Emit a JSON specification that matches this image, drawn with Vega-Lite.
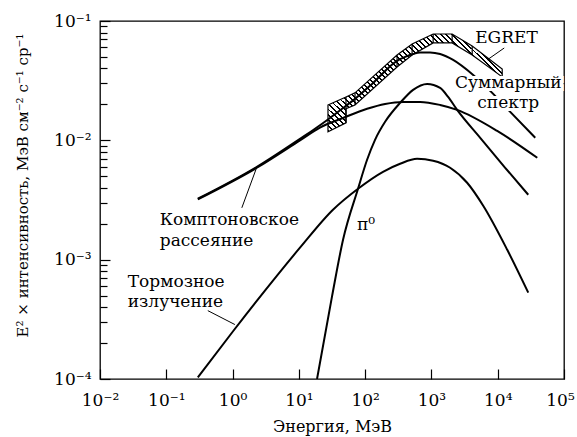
{
  "$schema": "https://vega.github.io/schema/vega-lite/v6.json",
  "width": 464,
  "height": 358,
  "autosize": {"type": "none"},
  "padding": {"left": 100, "top": 21, "right": 13, "bottom": 58},
  "background": "white",
  "config": {
    "font": "DejaVu Serif",
    "view": {"stroke": "black", "strokeWidth": 1.3},
    "text": {"font": "DejaVu Serif"},
    "axis": {"grid": false, "domain": false, "tickColor": "black", "tickWidth": 1.2, "labelColor": "black", "titleColor": "black", "labelFont": "DejaVu Serif", "titleFont": "DejaVu Serif", "labelFontSize": 17, "titleFontSize": 16, "titleFontWeight": "normal", "labelFlush": false, "labelOverlap": false}
  },
  "datasets": {
    "curves": [
      {"s": "total", "E": 0.299, "I": 0.00324},
      {"s": "total", "E": 2.33, "I": 0.006},
      {"s": "total", "E": 10.4, "I": 0.0103},
      {"s": "total", "E": 17.5, "I": 0.0125},
      {"s": "total", "E": 29.5, "I": 0.0154},
      {"s": "total", "E": 51.4, "I": 0.0195},
      {"s": "total", "E": 70.3, "I": 0.02225},
      {"s": "total", "E": 132, "I": 0.0303},
      {"s": "total", "E": 303, "I": 0.0463},
      {"s": "total", "E": 401, "I": 0.05},
      {"s": "total", "E": 529, "I": 0.0529},
      {"s": "total", "E": 675, "I": 0.0545},
      {"s": "total", "E": 955, "I": 0.0545},
      {"s": "total", "E": 1353, "I": 0.0529},
      {"s": "total", "E": 2125, "I": 0.0472},
      {"s": "total", "E": 4266, "I": 0.0353},
      {"s": "total", "E": 8260, "I": 0.025},
      {"s": "total", "E": 15450, "I": 0.0173},
      {"s": "total", "E": 36830, "I": 0.0105},
      {"s": "ic", "E": 0.299, "I": 0.0032},
      {"s": "ic", "E": 2.33, "I": 0.0059},
      {"s": "ic", "E": 10.4, "I": 0.0100},
      {"s": "ic", "E": 20.8, "I": 0.0128},
      {"s": "ic", "E": 46.4, "I": 0.0154},
      {"s": "ic", "E": 107, "I": 0.0184},
      {"s": "ic", "E": 200, "I": 0.0202},
      {"s": "ic", "E": 374, "I": 0.021},
      {"s": "ic", "E": 675, "I": 0.021},
      {"s": "ic", "E": 1353, "I": 0.0198},
      {"s": "ic", "E": 2443, "I": 0.018},
      {"s": "ic", "E": 9817, "I": 0.012},
      {"s": "ic", "E": 39510, "I": 0.00714},
      {"s": "pi0", "E": 18.8, "I": 0.0001},
      {"s": "pi0", "E": 31.6, "I": 0.00049},
      {"s": "pi0", "E": 46.4, "I": 0.00147},
      {"s": "pi0", "E": 78.1, "I": 0.00393},
      {"s": "pi0", "E": 107, "I": 0.00687},
      {"s": "pi0", "E": 141, "I": 0.0101},
      {"s": "pi0", "E": 200, "I": 0.0143},
      {"s": "pi0", "E": 337, "I": 0.0206},
      {"s": "pi0", "E": 529, "I": 0.0265},
      {"s": "pi0", "E": 861, "I": 0.0297},
      {"s": "pi0", "E": 1353, "I": 0.0275},
      {"s": "pi0", "E": 1786, "I": 0.0231},
      {"s": "pi0", "E": 2443, "I": 0.018},
      {"s": "pi0", "E": 5445, "I": 0.0105},
      {"s": "pi0", "E": 12970, "I": 0.00589},
      {"s": "pi0", "E": 28890, "I": 0.0035},
      {"s": "brems", "E": 0.299, "I": 0.000103},
      {"s": "brems", "E": 1.01, "I": 0.00025},
      {"s": "brems", "E": 3.08, "I": 0.00055},
      {"s": "brems", "E": 10.4, "I": 0.00126},
      {"s": "brems", "E": 32.7, "I": 0.00262},
      {"s": "brems", "E": 78.1, "I": 0.00393},
      {"s": "brems", "E": 186, "I": 0.00545},
      {"s": "brems", "E": 337, "I": 0.00636},
      {"s": "brems", "E": 608, "I": 0.007},
      {"s": "brems", "E": 1062, "I": 0.00674},
      {"s": "brems", "E": 1915, "I": 0.00589},
      {"s": "brems", "E": 3459, "I": 0.00441},
      {"s": "brems", "E": 6043, "I": 0.00283},
      {"s": "brems", "E": 13920, "I": 0.00121},
      {"s": "brems", "E": 28890, "I": 0.000529}
    ],
    "egret": [
      {"E": 27.5, "I": 0.0198, "I2": 0.0118},
      {"E": 51.4, "I": 0.0231, "I2": 0.014},
      {"E": 51.4, "I": 0.0231, "I2": 0.0184},
      {"E": 70.3, "I": 0.025, "I2": 0.0198},
      {"E": 303, "I": 0.0519, "I2": 0.0412},
      {"E": 511, "I": 0.0642, "I2": 0.0519},
      {"E": 1062, "I": 0.0778, "I2": 0.0655},
      {"E": 2054, "I": 0.0778, "I2": 0.0655},
      {"E": 4121, "I": 0.0618, "I2": 0.0519},
      {"E": 11690, "I": 0.0396, "I2": 0.034}
    ],
    "edges": [
      {"E": 51.4, "I": 0.0231, "I2": 0.014},
      {"E": 70.3, "I": 0.025, "I2": 0.0198},
      {"E": 303, "I": 0.0519, "I2": 0.0412},
      {"E": 511, "I": 0.0642, "I2": 0.0519},
      {"E": 1062, "I": 0.0778, "I2": 0.0655},
      {"E": 2054, "I": 0.0778, "I2": 0.0655},
      {"E": 4121, "I": 0.0618, "I2": 0.0519}
    ],
    "leaders": [
      {"E": 1.38, "I": 0.00272, "E2": 2.33, "I2": 0.006},
      {"E": 0.423, "I": 0.000374, "E2": 1.083, "I2": 0.000286},
      {"E": 6935, "I": 0.0472, "E2": 12540, "I2": 0.0594}
    ],
    "leftLabels": [
      {"t": "Комптоновское", "E": 0.0798, "I": 0.00196},
      {"t": "рассеяние", "E": 0.0798, "I": 0.00131},
      {"t": "Тормозное", "E": 0.0262, "I": 0.000594},
      {"t": "излучение", "E": 0.0262, "I": 0.000404},
      {"t": "EGRET", "E": 4571, "I": 0.0655},
      {"t": "π⁰", "E": 75.5, "I": 0.00178}
    ],
    "centerLabels": [
      {"t": "Суммарный", "E": 14420, "I": 0.0275},
      {"t": "спектр", "E": 14420, "I": 0.0187}
    ]
  },
  "encoding": {
    "x": {
      "field": "E", "type": "quantitative",
      "scale": {"type": "log", "domain": [0.01, 100000], "nice": false},
      "axis": {
        "values": [0.01, 0.1, 1, 10, 100, 1000, 10000, 100000],
        "labelExpr": "'10' + (round(log(datum.value)/LN10) < 0 ? '⁻' : '') + ['⁰','¹','²','³','⁴','⁵'][abs(round(log(datum.value)/LN10))]",
        "labelOffset": {"condition": {"test": "datum.value > 50000", "value": -4}, "value": 0},
        "tickSize": -10,
        "labelPadding": 23,
        "labelBaseline": "top",
        "title": "Энергия, МэВ",
        "titleY": 52,
        "titleBaseline": "alphabetic"
      }
    },
    "y": {
      "field": "I", "type": "quantitative",
      "scale": {"type": "log", "domain": [0.0001, 0.1], "nice": false},
      "axis": {
        "values": [0.0001, 0.0002, 0.0003, 0.0004, 0.0005, 0.0006, 0.0007, 0.0008, 0.0009, 0.001, 0.002, 0.003, 0.004, 0.005, 0.006, 0.007, 0.008, 0.009, 0.01, 0.02, 0.03, 0.04, 0.05, 0.06, 0.07, 0.08, 0.09, 0.1],
        "labelExpr": "abs(log(datum.value)/LN10 - round(log(datum.value)/LN10)) > 0.01 ? '' : '10' + (round(log(datum.value)/LN10) < 0 ? '⁻' : '') + ['⁰','¹','²','³','⁴','⁵'][abs(round(log(datum.value)/LN10))]",
        "tickSize": {"condition": {"test": "abs(log(datum.value)/LN10 - round(log(datum.value)/LN10)) < 0.01", "value": -10}, "value": -7},
        "labelPadding": 19,
        "labelBaseline": "middle",
        "title": "E² × интенсивность, МэВ см⁻² с⁻¹ ср⁻¹",
        "titleFontSize": 15,
        "titleAngle": 270,
        "titleX": -73,
        "titleY": 164,
        "titleAlign": "center",
        "titleBaseline": "alphabetic"
      }
    }
  },
  "layer": [
    {
      "data": {"name": "egret"},
      "mark": {
        "type": "area",
        "stroke": "black",
        "strokeWidth": 1.2,
        "fill": {
          "gradient": "linear", "x1": 0, "y1": 1, "x2": 1.2, "y2": 0.317,
          "stops": [
            {"offset": 0, "color": "#000"}, {"offset": 0.007, "color": "#000"}, {"offset": 0.007, "color": "#fff"}, {"offset": 0.02, "color": "#fff"},
            {"offset": 0.02, "color": "#000"}, {"offset": 0.027, "color": "#000"}, {"offset": 0.027, "color": "#fff"}, {"offset": 0.04, "color": "#fff"},
            {"offset": 0.04, "color": "#000"}, {"offset": 0.047, "color": "#000"}, {"offset": 0.047, "color": "#fff"}, {"offset": 0.06, "color": "#fff"},
            {"offset": 0.06, "color": "#000"}, {"offset": 0.067, "color": "#000"}, {"offset": 0.067, "color": "#fff"}, {"offset": 0.08, "color": "#fff"},
            {"offset": 0.08, "color": "#000"}, {"offset": 0.087, "color": "#000"}, {"offset": 0.087, "color": "#fff"}, {"offset": 0.1, "color": "#fff"},
            {"offset": 0.1, "color": "#000"}, {"offset": 0.107, "color": "#000"}, {"offset": 0.107, "color": "#fff"}, {"offset": 0.12, "color": "#fff"},
            {"offset": 0.12, "color": "#000"}, {"offset": 0.127, "color": "#000"}, {"offset": 0.127, "color": "#fff"}, {"offset": 0.14, "color": "#fff"},
            {"offset": 0.14, "color": "#000"}, {"offset": 0.147, "color": "#000"}, {"offset": 0.147, "color": "#fff"}, {"offset": 0.16, "color": "#fff"},
            {"offset": 0.16, "color": "#000"}, {"offset": 0.167, "color": "#000"}, {"offset": 0.167, "color": "#fff"}, {"offset": 0.18, "color": "#fff"},
            {"offset": 0.18, "color": "#000"}, {"offset": 0.187, "color": "#000"}, {"offset": 0.187, "color": "#fff"}, {"offset": 0.2, "color": "#fff"},
            {"offset": 0.2, "color": "#000"}, {"offset": 0.207, "color": "#000"}, {"offset": 0.207, "color": "#fff"}, {"offset": 0.22, "color": "#fff"},
            {"offset": 0.22, "color": "#000"}, {"offset": 0.227, "color": "#000"}, {"offset": 0.227, "color": "#fff"}, {"offset": 0.24, "color": "#fff"},
            {"offset": 0.24, "color": "#000"}, {"offset": 0.247, "color": "#000"}, {"offset": 0.247, "color": "#fff"}, {"offset": 0.26, "color": "#fff"},
            {"offset": 0.26, "color": "#000"}, {"offset": 0.267, "color": "#000"}, {"offset": 0.267, "color": "#fff"}, {"offset": 0.28, "color": "#fff"},
            {"offset": 0.28, "color": "#000"}, {"offset": 0.287, "color": "#000"}, {"offset": 0.287, "color": "#fff"}, {"offset": 0.3, "color": "#fff"},
            {"offset": 0.3, "color": "#000"}, {"offset": 0.307, "color": "#000"}, {"offset": 0.307, "color": "#fff"}, {"offset": 0.32, "color": "#fff"},
            {"offset": 0.32, "color": "#000"}, {"offset": 0.327, "color": "#000"}, {"offset": 0.327, "color": "#fff"}, {"offset": 0.34, "color": "#fff"},
            {"offset": 0.34, "color": "#000"}, {"offset": 0.347, "color": "#000"}, {"offset": 0.347, "color": "#fff"}, {"offset": 0.36, "color": "#fff"},
            {"offset": 0.36, "color": "#000"}, {"offset": 0.367, "color": "#000"}, {"offset": 0.367, "color": "#fff"}, {"offset": 0.38, "color": "#fff"},
            {"offset": 0.38, "color": "#000"}, {"offset": 0.387, "color": "#000"}, {"offset": 0.387, "color": "#fff"}, {"offset": 0.4, "color": "#fff"},
            {"offset": 0.4, "color": "#000"}, {"offset": 0.407, "color": "#000"}, {"offset": 0.407, "color": "#fff"}, {"offset": 0.42, "color": "#fff"},
            {"offset": 0.42, "color": "#000"}, {"offset": 0.427, "color": "#000"}, {"offset": 0.427, "color": "#fff"}, {"offset": 0.44, "color": "#fff"},
            {"offset": 0.44, "color": "#000"}, {"offset": 0.447, "color": "#000"}, {"offset": 0.447, "color": "#fff"}, {"offset": 0.46, "color": "#fff"},
            {"offset": 0.46, "color": "#000"}, {"offset": 0.467, "color": "#000"}, {"offset": 0.467, "color": "#fff"}, {"offset": 0.48, "color": "#fff"},
            {"offset": 0.48, "color": "#000"}, {"offset": 0.487, "color": "#000"}, {"offset": 0.487, "color": "#fff"}, {"offset": 0.5, "color": "#fff"},
            {"offset": 0.5, "color": "#000"}, {"offset": 0.507, "color": "#000"}, {"offset": 0.507, "color": "#fff"}, {"offset": 0.52, "color": "#fff"},
            {"offset": 0.52, "color": "#000"}, {"offset": 0.527, "color": "#000"}, {"offset": 0.527, "color": "#fff"}, {"offset": 0.54, "color": "#fff"},
            {"offset": 0.54, "color": "#000"}, {"offset": 0.547, "color": "#000"}, {"offset": 0.547, "color": "#fff"}, {"offset": 0.56, "color": "#fff"},
            {"offset": 0.56, "color": "#000"}, {"offset": 0.567, "color": "#000"}, {"offset": 0.567, "color": "#fff"}, {"offset": 0.58, "color": "#fff"},
            {"offset": 0.58, "color": "#000"}, {"offset": 0.587, "color": "#000"}, {"offset": 0.587, "color": "#fff"}, {"offset": 0.6, "color": "#fff"},
            {"offset": 0.6, "color": "#000"}, {"offset": 0.607, "color": "#000"}, {"offset": 0.607, "color": "#fff"}, {"offset": 0.62, "color": "#fff"},
            {"offset": 0.62, "color": "#000"}, {"offset": 0.627, "color": "#000"}, {"offset": 0.627, "color": "#fff"}, {"offset": 0.64, "color": "#fff"},
            {"offset": 0.64, "color": "#000"}, {"offset": 0.647, "color": "#000"}, {"offset": 0.647, "color": "#fff"}, {"offset": 0.66, "color": "#fff"},
            {"offset": 0.66, "color": "#000"}, {"offset": 0.667, "color": "#000"}, {"offset": 0.667, "color": "#fff"}, {"offset": 0.68, "color": "#fff"},
            {"offset": 0.68, "color": "#000"}, {"offset": 0.687, "color": "#000"}, {"offset": 0.687, "color": "#fff"}, {"offset": 0.7, "color": "#fff"},
            {"offset": 0.7, "color": "#000"}, {"offset": 0.707, "color": "#000"}, {"offset": 0.707, "color": "#fff"}, {"offset": 0.72, "color": "#fff"},
            {"offset": 0.72, "color": "#000"}, {"offset": 0.727, "color": "#000"}, {"offset": 0.727, "color": "#fff"}, {"offset": 0.74, "color": "#fff"},
            {"offset": 0.74, "color": "#000"}, {"offset": 0.747, "color": "#000"}, {"offset": 0.747, "color": "#fff"}, {"offset": 0.76, "color": "#fff"},
            {"offset": 0.76, "color": "#000"}, {"offset": 0.767, "color": "#000"}, {"offset": 0.767, "color": "#fff"}, {"offset": 0.78, "color": "#fff"},
            {"offset": 0.78, "color": "#000"}, {"offset": 0.787, "color": "#000"}, {"offset": 0.787, "color": "#fff"}, {"offset": 0.8, "color": "#fff"},
            {"offset": 0.8, "color": "#000"}, {"offset": 0.807, "color": "#000"}, {"offset": 0.807, "color": "#fff"}, {"offset": 0.82, "color": "#fff"},
            {"offset": 0.82, "color": "#000"}, {"offset": 0.827, "color": "#000"}, {"offset": 0.827, "color": "#fff"}, {"offset": 0.84, "color": "#fff"},
            {"offset": 0.84, "color": "#000"}, {"offset": 0.847, "color": "#000"}, {"offset": 0.847, "color": "#fff"}, {"offset": 0.86, "color": "#fff"},
            {"offset": 0.86, "color": "#000"}, {"offset": 0.867, "color": "#000"}, {"offset": 0.867, "color": "#fff"}, {"offset": 0.88, "color": "#fff"},
            {"offset": 0.88, "color": "#000"}, {"offset": 0.887, "color": "#000"}, {"offset": 0.887, "color": "#fff"}, {"offset": 0.9, "color": "#fff"},
            {"offset": 0.9, "color": "#000"}, {"offset": 0.907, "color": "#000"}, {"offset": 0.907, "color": "#fff"}, {"offset": 0.92, "color": "#fff"},
            {"offset": 0.92, "color": "#000"}, {"offset": 0.927, "color": "#000"}, {"offset": 0.927, "color": "#fff"}, {"offset": 0.94, "color": "#fff"},
            {"offset": 0.94, "color": "#000"}, {"offset": 0.947, "color": "#000"}, {"offset": 0.947, "color": "#fff"}, {"offset": 0.96, "color": "#fff"},
            {"offset": 0.96, "color": "#000"}, {"offset": 0.967, "color": "#000"}, {"offset": 0.967, "color": "#fff"}, {"offset": 0.98, "color": "#fff"},
            {"offset": 0.98, "color": "#000"}, {"offset": 0.987, "color": "#000"}, {"offset": 0.987, "color": "#fff"}, {"offset": 1, "color": "#fff"}
          ]
        }
      },
      "encoding": {"y2": {"field": "I2"}}
    },
    {
      "data": {"name": "edges"},
      "mark": {"type": "rule", "color": "black", "strokeWidth": 1.2},
      "encoding": {"y2": {"field": "I2"}}
    },
    {
      "data": {"name": "curves"},
      "mark": {"type": "line", "color": "black", "strokeWidth": 2, "interpolate": "monotone", "clip": true},
      "encoding": {"detail": {"field": "s"}}
    },
    {
      "data": {"name": "leaders"},
      "mark": {"type": "rule", "color": "black", "strokeWidth": 1},
      "encoding": {"x2": {"field": "E2"}, "y2": {"field": "I2"}}
    },
    {
      "data": {"name": "centerLabels"},
      "mark": {"type": "text", "align": "center", "baseline": "alphabetic", "fontSize": 17, "font": "DejaVu Serif", "color": "white", "stroke": "white", "strokeWidth": 6},
      "encoding": {"text": {"field": "t"}}
    },
    {
      "data": {"name": "centerLabels"},
      "mark": {"type": "text", "align": "center", "baseline": "alphabetic", "fontSize": 17, "font": "DejaVu Serif", "color": "black"},
      "encoding": {"text": {"field": "t"}}
    },
    {
      "data": {"name": "leftLabels"},
      "mark": {"type": "text", "align": "left", "baseline": "alphabetic", "fontSize": 17, "font": "DejaVu Serif", "color": "black"},
      "encoding": {"text": {"field": "t"}}
    }
  ]
}
